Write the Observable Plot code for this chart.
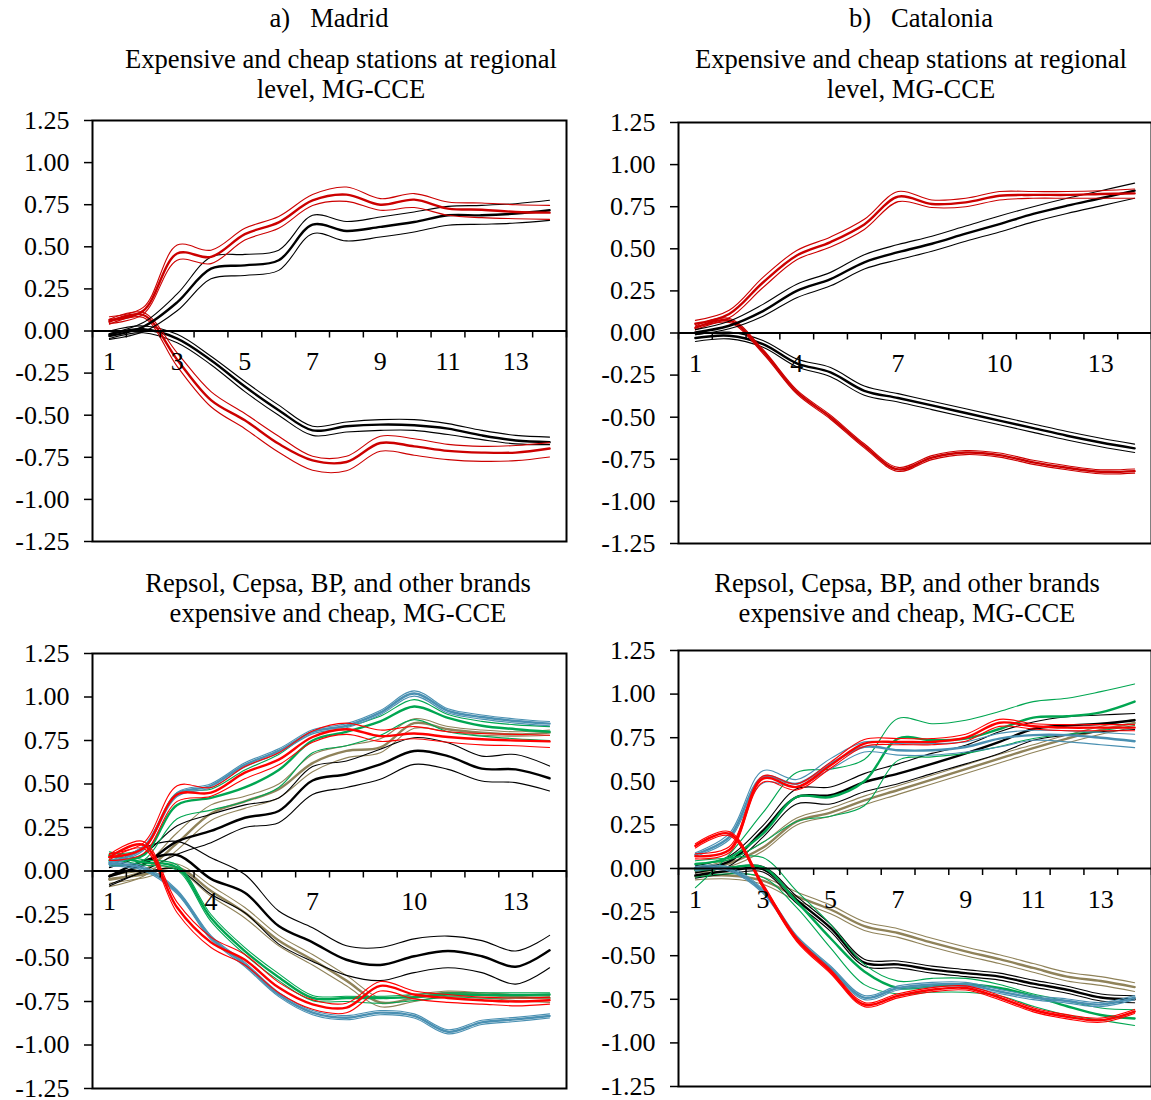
<!DOCTYPE html>
<html><head><meta charset="utf-8">
<script src="https://cdn.jsdelivr.net/npm/d3@7"></script>
<script src="https://cdn.jsdelivr.net/npm/@observablehq/plot@0.6"></script>
<style>
html,body{margin:0;padding:0;background:#fff;overflow:hidden;}
body{width:1151px;height:1100px;position:relative;font-family:"Liberation Serif","Times New Roman",serif;}
.t{position:absolute;width:600px;text-align:center;font-size:26.6px;line-height:30px;white-space:pre;color:#000;}
.p{position:absolute;}
</style></head><body>
<script>
// ---------- axes ----------
const cats = [1,2,3,4,5,6,7,8,9,10,11,12,13,14];
const xBounds = [0.5,1.5,2.5,3.5,4.5,5.5,6.5,7.5,8.5,9.5,10.5,11.5,12.5,13.5,14.5];
const yTicks = [-1.25,-1,-0.75,-0.5,-0.25,0,0.25,0.5,0.75,1,1.25];
const xLabelsOdd = [1,3,5,7,9,11,13];
const xLabelsThird = [1,4,7,10,13];

// ---------- texts ----------
const headers = ["a)   Madrid", "b)   Catalonia"];
const topTitle = ["Expensive and cheap stations at regional", "level, MG-CCE"];
const botTitle = ["Repsol, Cepsa, BP, and other brands", "expensive and cheap, MG-CCE"];

// ---------- colours ----------
const RED_T = "#cc0000", RED_B = "#ff0000", BLACK = "#000000",
      GREEN = "#00a651", BLUE = "#4a90b2", OLIVE = "#8f8259";

// ---------- a) Madrid, regional : [mid, upper, lower] ----------
const aBlackDown = [
  [-0.02,0.01,-0.045,-0.174,-0.33,-0.47,-0.59,-0.566,-0.556,-0.56,-0.58,-0.62,-0.65,-0.66],
  [0.0,0.03,-0.02,-0.15,-0.30,-0.44,-0.566,-0.54,-0.526,-0.526,-0.55,-0.59,-0.62,-0.63],
  [-0.045,-0.01,-0.07,-0.20,-0.36,-0.50,-0.62,-0.60,-0.59,-0.59,-0.615,-0.645,-0.67,-0.675]];
const aRedDown = [
  [0.055,0.095,-0.17,-0.41,-0.53,-0.67,-0.768,-0.778,-0.665,-0.685,-0.712,-0.722,-0.722,-0.698],
  [0.07,0.11,-0.13,-0.36,-0.49,-0.625,-0.744,-0.744,-0.625,-0.64,-0.673,-0.685,-0.68,-0.663],
  [0.04,0.08,-0.21,-0.45,-0.58,-0.72,-0.827,-0.83,-0.714,-0.738,-0.764,-0.774,-0.77,-0.748]];
const aBlackUp = [
  [-0.03,0.025,0.17,0.37,0.39,0.42,0.632,0.594,0.618,0.647,0.687,0.687,0.697,0.717],
  [-0.015,0.05,0.22,0.44,0.455,0.48,0.687,0.65,0.677,0.707,0.74,0.746,0.756,0.776],
  [-0.05,-0.005,0.12,0.31,0.33,0.36,0.578,0.535,0.558,0.588,0.628,0.634,0.641,0.657]];
const aRedUp = [
  [0.065,0.12,0.46,0.44,0.575,0.645,0.775,0.81,0.75,0.78,0.727,0.72,0.707,0.703],
  [0.085,0.14,0.51,0.48,0.61,0.68,0.81,0.855,0.786,0.816,0.766,0.76,0.75,0.746],
  [0.045,0.10,0.42,0.40,0.54,0.61,0.745,0.77,0.717,0.733,0.687,0.673,0.667,0.663]];

// ---------- b) Catalonia, regional ----------
const bBlackDown = [
  [-0.03,-0.016,-0.066,-0.18,-0.234,-0.343,-0.386,-0.43,-0.475,-0.52,-0.565,-0.61,-0.65,-0.685],
  [-0.01,0.005,-0.045,-0.155,-0.205,-0.315,-0.36,-0.405,-0.45,-0.495,-0.54,-0.585,-0.625,-0.66],
  [-0.05,-0.035,-0.085,-0.20,-0.26,-0.37,-0.41,-0.455,-0.5,-0.545,-0.59,-0.635,-0.675,-0.71]];
const bRedDown = [
  [0.03,0.075,-0.11,-0.35,-0.50,-0.67,-0.81,-0.74,-0.71,-0.725,-0.768,-0.80,-0.824,-0.82],
  [0.042,0.087,-0.098,-0.338,-0.488,-0.658,-0.798,-0.728,-0.698,-0.713,-0.756,-0.788,-0.812,-0.808],
  [0.018,0.063,-0.122,-0.362,-0.512,-0.682,-0.822,-0.752,-0.722,-0.737,-0.78,-0.812,-0.836,-0.832]];
const bBlackUp = [
  [0.004,0.043,0.13,0.25,0.32,0.42,0.48,0.53,0.59,0.647,0.707,0.756,0.80,0.845],
  [0.02,0.07,0.17,0.29,0.36,0.465,0.525,0.575,0.635,0.695,0.75,0.80,0.845,0.89],
  [-0.01,0.025,0.10,0.21,0.28,0.38,0.435,0.485,0.545,0.60,0.66,0.71,0.755,0.80]];
const bRedUp = [
  [0.055,0.113,0.30,0.46,0.54,0.645,0.81,0.766,0.776,0.815,0.82,0.82,0.825,0.829],
  [0.075,0.135,0.33,0.49,0.57,0.675,0.84,0.79,0.80,0.84,0.84,0.84,0.845,0.855],
  [0.04,0.09,0.27,0.435,0.51,0.615,0.78,0.745,0.75,0.79,0.80,0.80,0.80,0.80]];

// ---------- a) Madrid, brands ----------
const cOliveDown = [
  [-0.045,-0.02,0.02,-0.115,-0.24,-0.40,-0.51,-0.63,-0.756,-0.73,-0.70,-0.71,-0.724,-0.73],
  [-0.02,0.0,0.04,-0.085,-0.21,-0.37,-0.48,-0.60,-0.73,-0.71,-0.69,-0.70,-0.71,-0.715],
  [-0.07,-0.04,0.0,-0.145,-0.27,-0.43,-0.54,-0.66,-0.78,-0.75,-0.72,-0.73,-0.745,-0.755]];
const cOliveUp = [
  [-0.05,0.0,0.16,0.33,0.40,0.47,0.62,0.69,0.71,0.85,0.815,0.795,0.785,0.795],
  [-0.03,0.03,0.22,0.38,0.43,0.50,0.67,0.72,0.76,0.875,0.83,0.81,0.80,0.81],
  [-0.09,-0.03,0.12,0.29,0.36,0.42,0.57,0.65,0.68,0.82,0.80,0.78,0.775,0.78]];
const cBlackDown = [
  [-0.03,0.057,0.092,-0.045,-0.125,-0.316,-0.41,-0.51,-0.54,-0.49,-0.46,-0.49,-0.55,-0.456],
  [0.02,0.134,0.17,0.076,-0.02,-0.23,-0.326,-0.43,-0.44,-0.39,-0.374,-0.40,-0.46,-0.37],
  [-0.077,-0.01,0.01,-0.134,-0.24,-0.42,-0.52,-0.60,-0.63,-0.584,-0.556,-0.584,-0.65,-0.556]];
const cBlackUp = [
  [-0.03,0.038,0.17,0.23,0.306,0.345,0.52,0.556,0.613,0.69,0.66,0.588,0.584,0.533],
  [0.019,0.096,0.26,0.326,0.38,0.42,0.60,0.632,0.70,0.766,0.737,0.66,0.67,0.603],
  [-0.086,0.0,0.096,0.163,0.25,0.278,0.44,0.48,0.527,0.613,0.584,0.517,0.508,0.46]];
const cGreenDown = [
  [0.09,0.05,0.02,-0.27,-0.46,-0.61,-0.73,-0.73,-0.73,-0.725,-0.71,-0.713,-0.713,-0.71],
  [0.11,0.065,0.035,-0.25,-0.44,-0.59,-0.715,-0.72,-0.72,-0.71,-0.70,-0.70,-0.70,-0.70],
  [0.07,0.035,0.005,-0.29,-0.48,-0.63,-0.745,-0.75,-0.76,-0.745,-0.725,-0.73,-0.73,-0.725]];
const cGreenUp = [
  [0.06,0.09,0.38,0.42,0.48,0.58,0.75,0.80,0.86,0.945,0.88,0.835,0.815,0.80],
  [0.10,0.13,0.45,0.47,0.58,0.67,0.80,0.83,0.89,0.985,0.90,0.86,0.84,0.83],
  [0.03,0.06,0.30,0.35,0.40,0.48,0.68,0.72,0.78,0.87,0.80,0.775,0.76,0.75]];
const cBlueDown = [
  [0.04,0.015,-0.12,-0.383,-0.537,-0.71,-0.814,-0.843,-0.814,-0.833,-0.924,-0.87,-0.853,-0.833],
  [0.052,0.027,-0.108,-0.371,-0.525,-0.698,-0.802,-0.831,-0.802,-0.821,-0.912,-0.858,-0.841,-0.821],
  [0.028,0.003,-0.132,-0.395,-0.549,-0.722,-0.826,-0.855,-0.826,-0.845,-0.936,-0.882,-0.865,-0.845]];
const cBlueUp = [
  [0.05,0.13,0.44,0.49,0.61,0.69,0.80,0.835,0.91,1.02,0.92,0.885,0.862,0.847],
  [0.062,0.142,0.452,0.502,0.622,0.702,0.812,0.847,0.922,1.035,0.932,0.897,0.874,0.859],
  [0.038,0.118,0.428,0.478,0.598,0.678,0.788,0.823,0.898,1.005,0.908,0.873,0.85,0.835]];
const cRedDown = [
  [0.08,0.15,-0.21,-0.41,-0.51,-0.67,-0.766,-0.785,-0.66,-0.71,-0.73,-0.743,-0.75,-0.743],
  [0.095,0.17,-0.18,-0.38,-0.48,-0.64,-0.74,-0.76,-0.635,-0.69,-0.71,-0.725,-0.73,-0.725],
  [0.065,0.13,-0.24,-0.44,-0.54,-0.70,-0.795,-0.815,-0.69,-0.735,-0.755,-0.765,-0.775,-0.765]];
const cRedUp = [
  [0.08,0.13,0.44,0.45,0.565,0.64,0.77,0.815,0.775,0.79,0.77,0.757,0.75,0.745],
  [0.10,0.16,0.49,0.48,0.60,0.68,0.805,0.85,0.81,0.83,0.80,0.79,0.785,0.78],
  [0.06,0.10,0.40,0.43,0.53,0.61,0.74,0.785,0.745,0.76,0.74,0.725,0.72,0.71]];

// ---------- b) Catalonia, brands ----------
const dOliveDown = [
  [-0.045,-0.04,-0.07,-0.16,-0.235,-0.33,-0.37,-0.425,-0.475,-0.52,-0.57,-0.62,-0.645,-0.68],
  [-0.025,-0.02,-0.05,-0.135,-0.21,-0.305,-0.345,-0.40,-0.45,-0.495,-0.545,-0.595,-0.62,-0.655],
  [-0.065,-0.06,-0.09,-0.185,-0.26,-0.355,-0.395,-0.45,-0.50,-0.545,-0.595,-0.645,-0.67,-0.705]];
const dOliveUp = [
  [-0.01,0.03,0.12,0.27,0.32,0.39,0.45,0.51,0.57,0.63,0.69,0.745,0.795,0.835],
  [0.005,0.05,0.15,0.29,0.345,0.415,0.475,0.535,0.595,0.655,0.71,0.765,0.815,0.855],
  [-0.025,0.01,0.10,0.25,0.30,0.365,0.425,0.485,0.545,0.605,0.665,0.72,0.77,0.81]];
const dBlackDown = [
  [-0.04,-0.013,-0.004,-0.18,-0.34,-0.54,-0.55,-0.58,-0.60,-0.62,-0.66,-0.695,-0.74,-0.75],
  [-0.025,0.005,0.012,-0.16,-0.32,-0.52,-0.53,-0.56,-0.58,-0.60,-0.64,-0.675,-0.72,-0.73],
  [-0.055,-0.03,-0.02,-0.20,-0.36,-0.56,-0.57,-0.60,-0.62,-0.64,-0.68,-0.715,-0.76,-0.77]];
const dBlackUp = [
  [0.0,0.04,0.217,0.41,0.42,0.495,0.544,0.60,0.66,0.726,0.80,0.82,0.83,0.85],
  [0.015,0.07,0.246,0.457,0.467,0.544,0.60,0.66,0.707,0.784,0.84,0.87,0.88,0.889],
  [-0.015,0.015,0.18,0.37,0.37,0.44,0.486,0.544,0.60,0.66,0.735,0.765,0.784,0.797]];
const dGreenDown = [
  [-0.01,0.006,0.006,-0.19,-0.40,-0.59,-0.685,-0.676,-0.665,-0.685,-0.73,-0.79,-0.84,-0.86],
  [0.044,0.06,0.063,-0.13,-0.32,-0.55,-0.646,-0.63,-0.63,-0.665,-0.72,-0.76,-0.80,-0.81],
  [-0.05,-0.03,-0.05,-0.224,-0.455,-0.666,-0.72,-0.71,-0.71,-0.73,-0.79,-0.84,-0.87,-0.90]];
const dGreenUp = [
  [0.025,0.063,0.20,0.41,0.41,0.50,0.745,0.735,0.745,0.80,0.865,0.873,0.895,0.957],
  [-0.11,0.08,0.32,0.55,0.57,0.625,0.86,0.83,0.85,0.90,0.957,0.976,1.014,1.058],
  [0.03,0.05,0.15,0.27,0.30,0.36,0.62,0.64,0.66,0.70,0.745,0.77,0.79,0.82]];
const dBlueDown = [
  [0.0,-0.003,-0.13,-0.397,-0.57,-0.74,-0.685,-0.665,-0.665,-0.705,-0.74,-0.76,-0.78,-0.74],
  [0.012,0.009,-0.118,-0.385,-0.558,-0.728,-0.673,-0.653,-0.653,-0.693,-0.728,-0.748,-0.768,-0.728],
  [-0.012,-0.015,-0.142,-0.409,-0.582,-0.752,-0.697,-0.677,-0.677,-0.717,-0.752,-0.772,-0.792,-0.752]];
const dBlueUp = [
  [0.08,0.18,0.525,0.486,0.60,0.697,0.678,0.678,0.697,0.745,0.765,0.765,0.75,0.73],
  [0.09,0.20,0.56,0.51,0.63,0.726,0.716,0.716,0.726,0.775,0.793,0.79,0.78,0.77],
  [0.07,0.165,0.49,0.47,0.57,0.668,0.65,0.65,0.668,0.697,0.735,0.726,0.71,0.693]];
const dRedDown = [
  [0.13,0.20,-0.10,-0.407,-0.59,-0.78,-0.73,-0.695,-0.685,-0.74,-0.81,-0.85,-0.87,-0.82],
  [0.142,0.212,-0.088,-0.395,-0.578,-0.768,-0.718,-0.683,-0.673,-0.728,-0.798,-0.838,-0.858,-0.808],
  [0.118,0.188,-0.112,-0.419,-0.602,-0.792,-0.742,-0.707,-0.697,-0.752,-0.822,-0.862,-0.882,-0.832]];
const dRedUp = [
  [0.07,0.106,0.515,0.467,0.592,0.716,0.726,0.726,0.75,0.836,0.816,0.808,0.808,0.808],
  [0.085,0.125,0.53,0.485,0.61,0.74,0.745,0.745,0.77,0.855,0.83,0.825,0.825,0.825],
  [0.055,0.09,0.495,0.45,0.575,0.70,0.71,0.71,0.73,0.815,0.80,0.79,0.79,0.79]];

// ---------- drawing ----------
const THICK = 2.4, THIN = 1.1;
const FONT = "'Liberation Serif','Times New Roman',serif";

function seriesMarks(series) {
  const marks = [];
  for (const [color, arrs] of series) {
    for (const j of [1, 2]) {
      marks.push(Plot.line(arrs[j], {x: (d, i) => cats[i], y: d => d, stroke: color, strokeWidth: THIN, curve: "catmull-rom"}));
    }
    marks.push(Plot.line(arrs[0], {x: (d, i) => cats[i], y: d => d, stroke: color, strokeWidth: THICK, curve: "catmull-rom"}));
  }
  return marks;
}

function panel(series, xLabels, box) {
  const svg = Plot.plot({
    width: box.w, height: box.h,
    marginLeft: box.ml, marginRight: box.mr, marginTop: box.mt, marginBottom: box.mb,
    x: {domain: [0.5, 14.5], axis: null},
    y: {domain: [-1.25, 1.25]},
    style: {fontFamily: FONT, fontSize: "26px", background: "transparent", color: "black", overflow: "visible"},
    marks: [
      ...seriesMarks(series),
      Plot.ruleY([0], {stroke: "black", strokeWidth: 2}),
      Plot.ruleX(xBounds, {x: d => d, y1: 0, y2: 0, insetBottom: -7, stroke: "black", strokeWidth: 1.5}),
      Plot.text(xLabels, {x: d => d, y: 0, dy: 31, text: d => String(d), fontSize: 26, fill: "black"}),
      Plot.axisY(yTicks, {tickFormat: d => d.toFixed(2), tickSize: 8, tickPadding: 15, label: null, strokeWidth: 1.5, fontSize: 26}),
      Plot.frame({stroke: "black", strokeWidth: 2})
    ]
  });
  const div = document.createElement("div");
  div.className = "p";
  div.style.left = box.left + "px";
  div.style.top = box.top + "px";
  div.style.width = box.w + "px";
  div.style.height = box.h + "px";
  div.appendChild(svg);
  document.body.appendChild(div);
}

function label(text, cx, cy) {
  const d = document.createElement("div");
  d.className = "t";
  d.textContent = text;
  d.style.left = (cx - 300) + "px";
  d.style.top = (cy - 15) + "px";
  document.body.appendChild(d);
}

label(headers[0], 329, 18);
label(headers[1], 921, 18);
label(topTitle[0], 341, 59);
label(topTitle[1], 341, 89);
label(topTitle[0], 911, 59);
label(topTitle[1], 911, 89);
label(botTitle[0], 338, 583);
label(botTitle[1], 338, 613);
label(botTitle[0], 907, 583);
label(botTitle[1], 907, 613);

panel([[BLACK, aBlackDown], [RED_T, aRedDown], [BLACK, aBlackUp], [RED_T, aRedUp]], xLabelsOdd,
  {left: 0, top: 100, w: 580, h: 460, ml: 92, mr: 14, mt: 20, mb: 19});
panel([[BLACK, bBlackDown], [RED_T, bRedDown], [BLACK, bBlackUp], [RED_T, bRedUp]], xLabelsThird,
  {left: 590, top: 100, w: 561, h: 460, ml: 88, mr: 0, mt: 22, mb: 17});
panel([[OLIVE, cOliveDown], [OLIVE, cOliveUp], [BLACK, cBlackDown], [BLACK, cBlackUp],
       [GREEN, cGreenDown], [GREEN, cGreenUp], [BLUE, cBlueDown], [BLUE, cBlueUp],
       [RED_B, cRedDown], [RED_B, cRedUp]], xLabelsThird,
  {left: 0, top: 630, w: 580, h: 470, ml: 92, mr: 14, mt: 23, mb: 12});
panel([[OLIVE, dOliveDown], [OLIVE, dOliveUp], [BLACK, dBlackDown], [BLACK, dBlackUp],
       [GREEN, dGreenDown], [GREEN, dGreenUp], [BLUE, dBlueDown], [BLUE, dBlueUp],
       [RED_B, dRedDown], [RED_B, dRedUp]], xLabelsOdd,
  {left: 590, top: 630, w: 561, h: 470, ml: 88, mr: 0, mt: 20, mb: 14});
</script>
</body></html>
